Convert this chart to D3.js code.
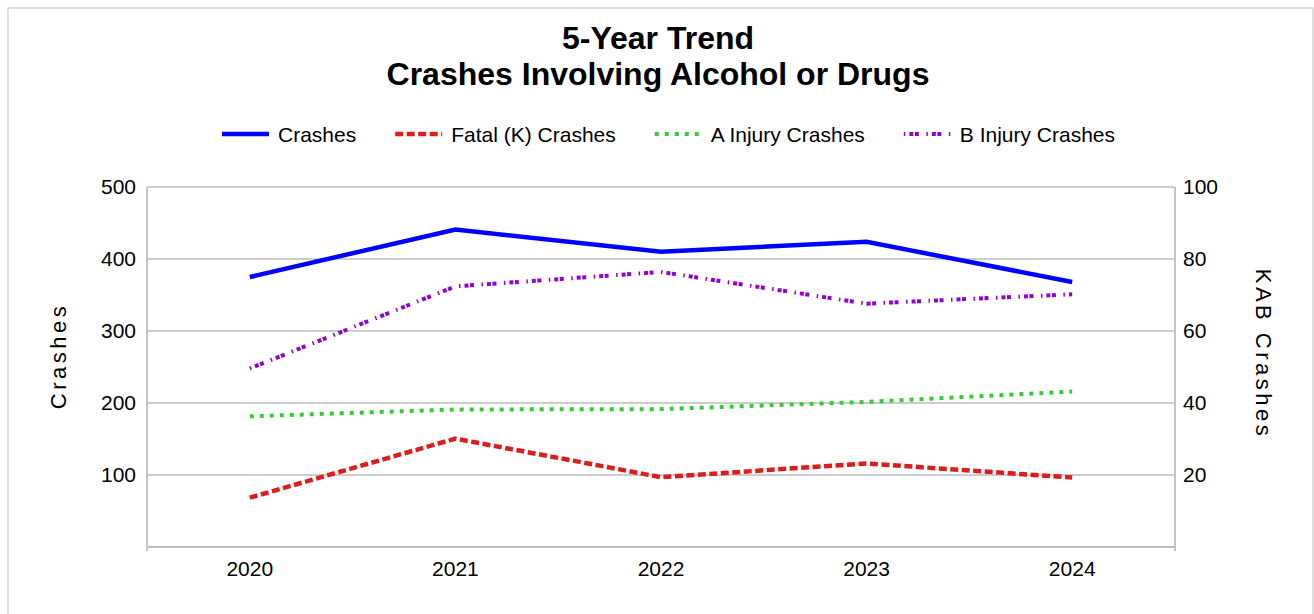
<!DOCTYPE html>
<html>
<head>
<meta charset="utf-8">
<script src="https://cdn.jsdelivr.net/npm/d3@7"></script>
<style>
  body { margin: 0; background: #fff; }
  svg { display: block; font-family: "Liberation Sans", Arial, sans-serif; }
</style>
</head>
<body>
<svg id="chart"></svg>
<script>
// data
const years = ["2020", "2021", "2022", "2023", "2024"];
const crashes = [375, 441, 410, 424, 368];
const fatalK = [13.7, 30.1, 19.4, 23.2, 19.3];
const injuryA = [36.3, 38.2, 38.3, 40.3, 43.2];
const injuryB = [49.6, 72.4, 76.4, 67.6, 70.2];
const leftTicks = [100, 200, 300, 400, 500];
const rightTicks = [20, 40, 60, 80, 100];

const series = [
  { name: "Crashes", values: crashes, axis: "left", color: "#0000ff", width: 4.5, dash: null },
  { name: "Fatal (K) Crashes", values: fatalK, axis: "right", color: "#dd1c1c", width: 4.5, dash: "8,3.5" },
  { name: "A Injury Crashes", values: injuryA, axis: "right", color: "#33cc33", width: 4, dash: "4,6" },
  { name: "B Injury Crashes", values: injuryB, axis: "right", color: "#9400d3", width: 4, dash: "1.5,4,4,1.5,4,7.5" },
];

const width = 1314;
const height = 614;
const margin = { top: 187, right: 139, bottom: 67, left: 147 };
const plotWidth = width - margin.left - margin.right;
const plotHeight = height - margin.top - margin.bottom;

const svg = d3.select("#chart").attr("width", width).attr("height", height);

// frame
svg.append("path")
  .attr("d", `M8,${height + 2} V8 H1313 V${height + 2}`)
  .attr("fill", "none")
  .attr("stroke", "#d4d4d4")
  .attr("stroke-width", 1.5);

// title
const title = svg.append("text")
  .attr("text-anchor", "middle")
  .attr("font-weight", "bold")
  .attr("font-size", 32)
  .attr("fill", "#000");
title.append("tspan").attr("x", 658).attr("y", 49).text("5-Year Trend");
title.append("tspan").attr("x", 658).attr("y", 85).text("Crashes Involving Alcohol or Drugs");

// scales
const xScale = d3.scaleBand().domain(years).range([0, plotWidth]);
const yLeft = d3.scaleLinear().domain([0, 500]).range([plotHeight, 0]);
const yRight = d3.scaleLinear().domain([0, 100]).range([plotHeight, 0]);

const plot = svg.append("g").attr("transform", `translate(${margin.left}, ${margin.top})`);

// grid
plot.append("g")
  .selectAll("line")
  .data([0, ...leftTicks])
  .join("line")
  .attr("x1", 0)
  .attr("x2", plotWidth)
  .attr("y1", (d) => yLeft(d))
  .attr("y2", (d) => yLeft(d))
  .attr("stroke", "#bdbdbd")
  .attr("stroke-width", (d) => (d === 0 ? 2 : 1.5));

// axes
const leftAxis = d3.axisLeft(yLeft).tickValues(leftTicks).tickSize(0).tickPadding(11);
const rightAxis = d3.axisRight(yRight).tickValues(rightTicks).tickSize(0).tickPadding(8);
const bottomAxis = d3.axisBottom(xScale).tickSize(0).tickPadding(14);

const styleAxis = (g) => {
  g.select(".domain").remove();
  g.selectAll("text").attr("font-size", 21).attr("fill", "#000").attr("font-family", "Liberation Sans, Arial, sans-serif");
};

plot.append("g").call(leftAxis).call(styleAxis);
plot.append("g").attr("transform", `translate(${plotWidth}, 0)`).call(rightAxis).call(styleAxis);
plot.append("g").attr("transform", `translate(0, ${plotHeight})`).call(bottomAxis).call(styleAxis);

// vertical axis lines
[0, plotWidth].forEach((x) => {
  plot.append("line")
    .attr("x1", x).attr("x2", x)
    .attr("y1", 0).attr("y2", plotHeight + 4)
    .attr("stroke", "#c4c4c4")
    .attr("stroke-width", 2);
});

// axis titles
svg.append("text")
  .attr("transform", `translate(66, ${margin.top + plotHeight / 2 - 11}) rotate(-90)`)
  .attr("text-anchor", "middle")
  .attr("font-size", 22)
  .attr("letter-spacing", 3.5)
  .text("Crashes");

svg.append("text")
  .attr("transform", `translate(1256, ${margin.top + plotHeight / 2 - 13}) rotate(90)`)
  .attr("text-anchor", "middle")
  .attr("font-size", 22)
  .attr("letter-spacing", 3.5)
  .text("KAB Crashes");

// lines
const cx = (i) => xScale(years[i]) + xScale.bandwidth() / 2;
plot.selectAll(".series")
  .data(series)
  .join("path")
  .attr("class", "series")
  .attr("fill", "none")
  .attr("stroke", (d) => d.color)
  .attr("stroke-width", (d) => d.width)
  .attr("stroke-dasharray", (d) => d.dash)
  .attr("stroke-linejoin", "miter")
  .attr("d", (d) => {
    const y = d.axis === "left" ? yLeft : yRight;
    return d3.line().x((v, i) => cx(i)).y((v) => y(v))(d.values);
  });

// legend
const legend = svg.append("g").attr("transform", "translate(222, 134)");
let lx = 0;
series.forEach((s) => {
  const item = legend.append("g").attr("transform", `translate(${lx}, 0)`);
  item.append("line")
    .attr("x1", 0).attr("x2", 47)
    .attr("y1", 0).attr("y2", 0)
    .attr("stroke", s.color)
    .attr("stroke-width", s.width)
    .attr("stroke-dasharray", s.dash);
  const t = item.append("text")
    .attr("x", 56)
    .attr("y", 7.5)
    .attr("font-size", 21)
    .text(s.name);
  lx += 56 + t.node().getComputedTextLength() + 39;
});
</script>
</body>
</html>
